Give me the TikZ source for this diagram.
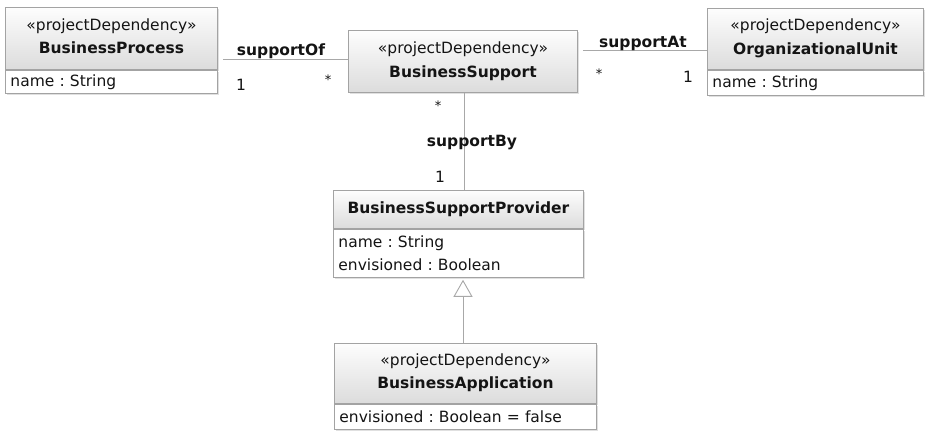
\documentclass[tikz,border=0pt]{standalone}
\usepackage{fontspec}
\setmainfont{DejaVu Sans}
\usetikzlibrary{arrows.meta,shadows,positioning}
\definecolor{boxline}{HTML}{A3A3A3}
\definecolor{edgeline}{HTML}{A8A8A8}
\definecolor{headtop}{HTML}{FDFDFD}
\definecolor{headbot}{HTML}{DCDCDC}
\frenchspacing
\tikzset{
  x=1pt, y=-1pt,
  every node/.style={font=\fontsize{15.5}{23.5}\selectfont, text=black!92},
  shade/.style={drop shadow={shadow xshift=2pt, shadow yshift=-2pt, opacity=0.12, fill=black}},
  header/.style={draw=boxline, line width=0.9pt, anchor=north west, align=center,
    top color=headtop, bottom color=headbot, inner sep=0pt, shade},
  attrs/.style={draw=boxline, line width=0.9pt, anchor=north west, align=left,
    fill=white, inner xsep=5pt, inner ysep=0pt, shade},
  assoc/.style={draw=edgeline, line width=0.9pt},
  role/.style={font=\fontsize{15.5}{17}\selectfont\bfseries},
  mult/.style={font=\fontsize{15.5}{17}\selectfont},
  star/.style={font=\fontsize{13}{15}\selectfont},
}
\newcommand{\stereo}{«projectDependency»}
% extra depth that lifts a two-line header slightly
\newcommand{\lift}{\rule[-5pt]{0pt}{5pt}}
\begin{document}
\begin{tikzpicture}
\useasboundingbox (0,0) rectangle (925,431);

% BusinessProcess
\node[header, minimum width=212pt, minimum height=62pt] (bph) at (5,7)
  {\stereo\\\textbf{BusinessProcess}\lift};
\node[attrs, text width=202pt, minimum height=23pt] (bpa) at (bph.south west) {name : String};

% BusinessSupport
\node[header, minimum width=229pt, minimum height=62pt] (bsh) at (348,30)
  {\stereo\\\textbf{BusinessSupport}};

% OrganizationalUnit
\node[header, minimum width=216pt, minimum height=61pt] (ouh) at (707,8)
  {\stereo\\\textbf{OrganizationalUnit}\lift};
\node[attrs, text width=206pt, minimum height=25pt] (oua) at (ouh.south west) {name : String};

% BusinessSupportProvider
\node[header, minimum width=250pt, minimum height=38pt] (bsph) at (333,190)
  {\textbf{BusinessSupportProvider}};
\node[attrs, text width=240pt, minimum height=48pt] (bspa) at (bsph.south west)
  {name : String\\envisioned : Boolean};

% BusinessApplication
\node[header, minimum width=262pt, minimum height=60pt] (bah) at (334,343)
  {\stereo\\\textbf{BusinessApplication}\lift};
\node[attrs, text width=252pt, minimum height=25pt] (baa) at (bah.south west)
  {envisioned : Boolean = false};

% associations
\coordinate (ofL) at ([xshift=5pt]bph.east |- 0,59);
\coordinate (ofR) at (bsh.west |- 0,59);
\draw[assoc] (ofL) -- (ofR);
\coordinate (atL) at ([xshift=5pt]bsh.east |- 0,50);
\coordinate (atR) at (ouh.west |- 0,50);
\draw[assoc] (atL) -- (atR);
\coordinate (byT) at (bsh.south -| 464,0);
\coordinate (byB) at (bsph.north -| 464,0);
\draw[assoc] (byT) -- (byB);

% generalization
\coordinate (genB) at (bah.north -| 463,0);
\coordinate (genT) at ([yshift=-2pt]bspa.south -| 463,0);
\draw[assoc, -{Triangle[open, length=17pt, width=19pt, fill=white]}] (genB) -- (genT);

% role names and multiplicities
\node[role] (rOf) at (281,51) {supportOf};
\node[mult] (m1) at (241,85) {1};
\node[star] (m2) at (328,80) {*};
\node[role] (rAt) at (643,43) {supportAt};
\node[star] (m3) at (599,74) {*};
\node[mult] (m4) at (688,77) {1};
\node[star] (m5) at (438,106) {*};
\node[role] (rBy) at (472,143) {supportBy};
\node[mult] (m6) at (440,177) {1};
\end{tikzpicture}
\end{document}
